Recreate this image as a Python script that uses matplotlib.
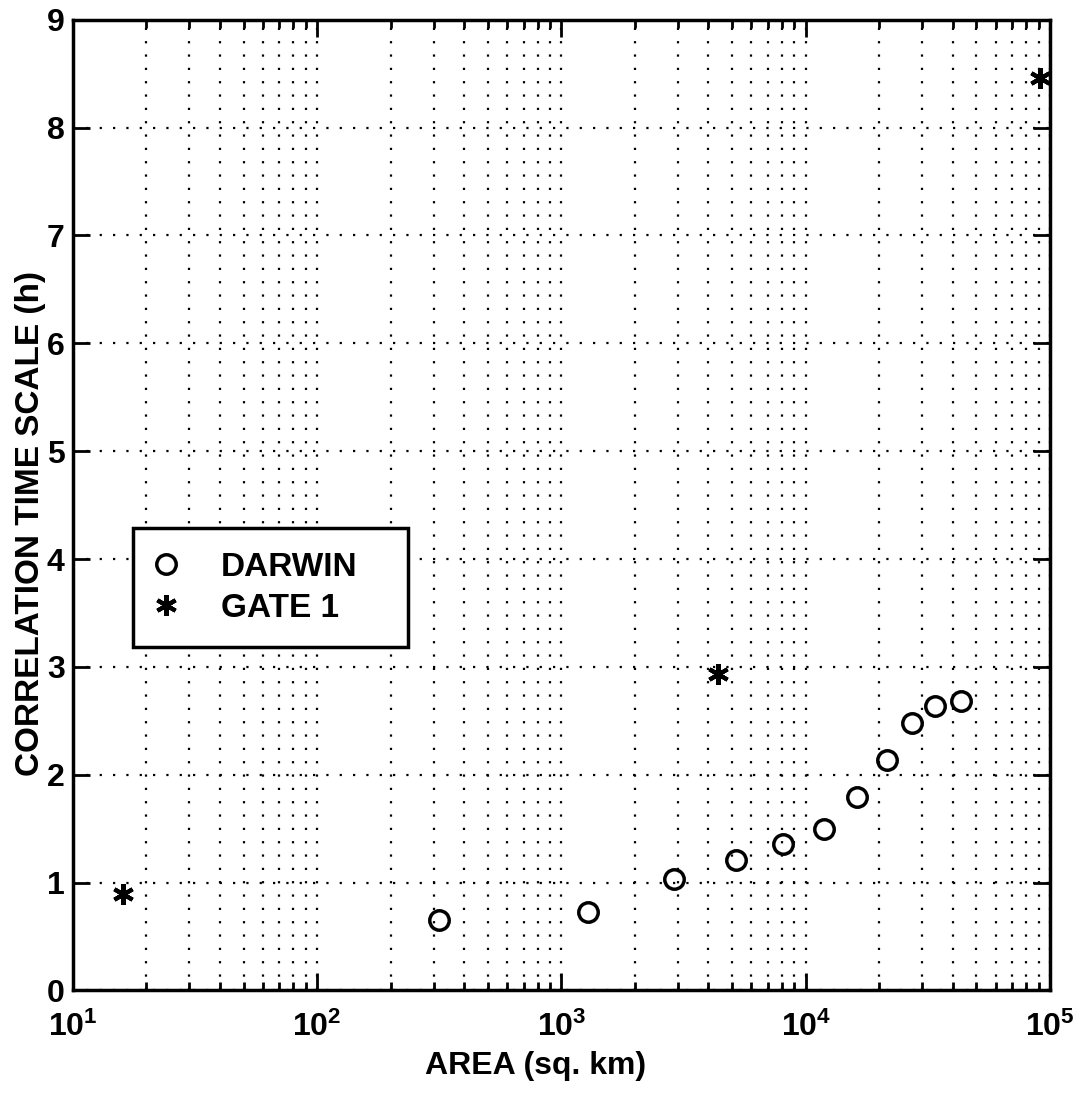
import numpy as np
import matplotlib
matplotlib.use('Agg')
import matplotlib.pyplot as plt
from matplotlib.ticker import LogLocator, FuncFormatter, NullFormatter

plt.rcParams['font.family'] = 'Liberation Sans'
plt.rcParams['font.weight'] = 'bold'
plt.rcParams['mathtext.fontset'] = 'custom'
plt.rcParams['mathtext.rm'] = 'Liberation Sans:bold'
plt.rcParams['mathtext.bf'] = 'Liberation Sans:bold'
plt.rcParams['mathtext.it'] = 'Liberation Sans:bold'

# Datos
darwin_area = [316, 1290, 2900, 5200, 8100, 11900, 16300, 21500, 27200, 33800, 43200]
darwin_tau = [0.65, 0.73, 1.03, 1.21, 1.36, 1.50, 1.79, 2.14, 2.48, 2.64, 2.68]
gate_area = [16, 4360, 91000]
gate_tau = [0.89, 2.93, 8.46]

fig = plt.figure(figsize=(10.88, 10.98), dpi=100)
ax = fig.add_axes([0.067, 0.098, 0.898, 0.884])

ax.plot(darwin_area, darwin_tau, linestyle='none', marker='o', markersize=14,
        markerfacecolor='none', markeredgecolor='black', markeredgewidth=2.5, label='DARWIN')
ax.plot(gate_area, gate_tau, linestyle='none', marker=(6, 2, 0), markersize=15,
        markeredgecolor='black', markeredgewidth=3, color='black', label='GATE 1')

ax.set_xscale('log')
ax.set_xlim(10, 1e5)
ax.set_ylim(0, 9)
ax.set_yticks(range(0, 10))
ax.xaxis.set_major_locator(LogLocator(base=10, numticks=10))
ax.xaxis.set_minor_locator(LogLocator(base=10, subs=np.arange(2, 10), numticks=20))
ax.xaxis.set_minor_formatter(NullFormatter())
ax.xaxis.set_major_formatter(FuncFormatter(lambda v, p: r'$10^{%d}$' % round(np.log10(v))))

# rejilla punteada estilo MATLAB
puntos = (0, (1, 5))
ax.grid(True, which='major', linestyle=puntos, color='black', linewidth=1.6)
ax.grid(True, which='minor', axis='x', linestyle=puntos, color='black', linewidth=1.6)

ax.tick_params(which='both', direction='in', top=True, right=True, labelsize=23, width=2)
ax.tick_params(which='major', length=12)
ax.tick_params(which='minor', length=6)
ax.tick_params(axis='x', which='major', pad=15)
ax.tick_params(axis='y', which='major', pad=6)
for s in ax.spines.values():
    s.set_linewidth(2.5)

ax.set_xlabel('AREA (sq. km)', fontsize=23, fontweight='bold')
ax.set_ylabel('CORRELATION TIME SCALE (h)', fontsize=24, fontweight='bold')
ax.xaxis.set_label_coords(0.474, -0.062)
ax.yaxis.set_label_coords(-0.043, 0.481)
ax.yaxis.label.set_va('center')

leg = ax.legend(loc='upper left', bbox_to_anchor=(0.0614, 0.353, 0.2815, 0.123), mode='expand',
                borderaxespad=0, fontsize=24, frameon=True, fancybox=False, edgecolor='black',
                framealpha=1, handletextpad=1.35, borderpad=0.7, handlelength=0.6,
                labelspacing=0.3)
leg.get_frame().set_linewidth(2.5)

plt.savefig('out.png', dpi=100)
